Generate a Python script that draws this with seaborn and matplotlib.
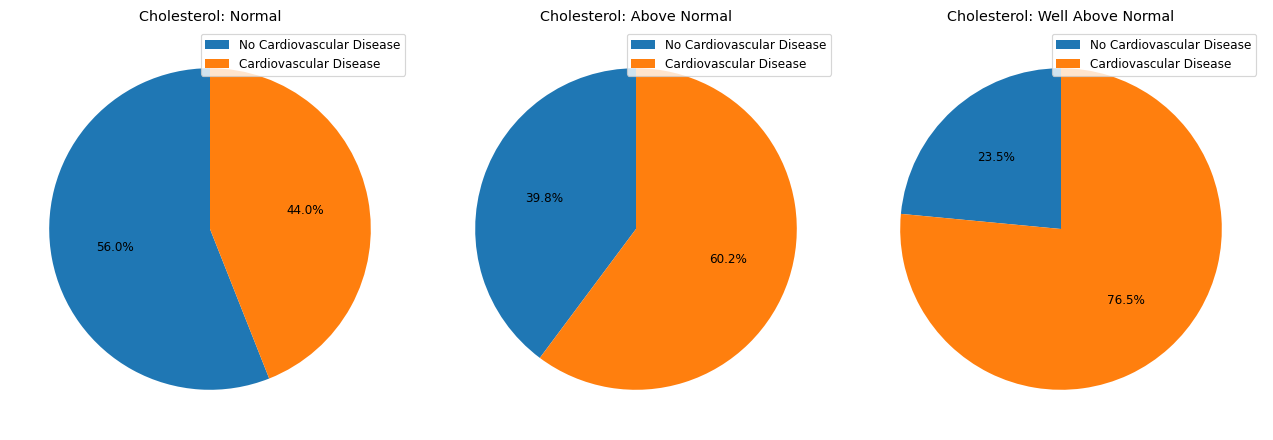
import matplotlib.pyplot as plt
import seaborn as sb

levels = ["Normal", "Above Normal", "Well Above Normal"]
labels = ["No Cardiovascular Disease", "Cardiovascular Disease"]
no_disease = [56.0, 39.8, 23.5]
disease = [44.0, 60.2, 76.5]

colors = sb.color_palette("tab10")[:2]

# the reference text is about 0.86x of 100 dpi, so draw at 86 dpi
dpi = 86
fig = plt.figure(figsize=(1273 / dpi, 440 / dpi), dpi=dpi)
# square axes, 402 px wide, centres at x = 210, 636, 1061 px
centres = [210, 636, 1061]
for cx, level, a, b in zip(centres, levels, no_disease, disease):
    ax = fig.add_axes([(cx - 201) / 1273, 10 / 440, 402 / 1273, 402 / 440])
    ax.pie([a, b], autopct="%1.1f%%", startangle=90, colors=colors)
    ax.set_title(f"Cholesterol: {level}")
    ax.legend(labels, loc="upper right")

plt.savefig("out.png", dpi=dpi)
